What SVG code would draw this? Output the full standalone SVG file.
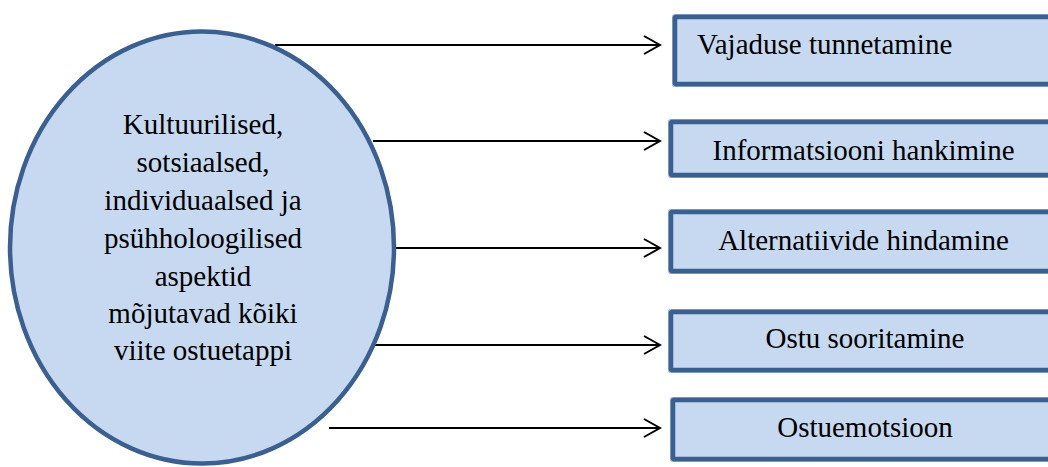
<svg xmlns="http://www.w3.org/2000/svg" width="1048" height="467" viewBox="0 0 1048 467">
<style>
.box{fill:#c6d9f0;stroke:#3b5f8e;stroke-width:4.5}
.rim{fill:none;stroke:#8fa9cc;stroke-width:1}
.ln{stroke:#000;stroke-width:2;fill:none}
</style>
<defs>
<marker id="ah" markerWidth="20" markerHeight="20" refX="18" refY="10" orient="auto" markerUnits="userSpaceOnUse" viewBox="0 0 20 20">
<path d="M2,1 L18,10 L2,19" fill="none" stroke="#000" stroke-width="2"/>
</marker>
</defs>
<rect width="1048" height="467" fill="#fff"/>
<g id="connectors">
<line class="ln" x1="275" y1="45" x2="660" y2="45" marker-end="url(#ah)"/>
<line class="ln" x1="373" y1="141" x2="660" y2="141" marker-end="url(#ah)"/>
<line class="ln" x1="393" y1="248" x2="660" y2="248" marker-end="url(#ah)"/>
<line class="ln" x1="374" y1="345" x2="660" y2="345" marker-end="url(#ah)"/>
<line class="ln" x1="329" y1="428" x2="660" y2="428" marker-end="url(#ah)"/>
</g>
<g id="ellipse" font-family="Liberation Serif, Times New Roman, serif" font-size="29" fill="#000" text-anchor="middle">
<ellipse cx="202" cy="247.5" rx="192" ry="216" fill="#c6d9f0" stroke="#3b5f8e" stroke-width="4.5"/>
<text x="203" y="134">Kultuurilised,</text>
<text x="203" y="172">sotsiaalsed,</text>
<text x="203" y="210">individuaalsed ja</text>
<text x="203" y="248">psühholoogilised</text>
<text x="203" y="286">aspektid</text>
<text x="203" y="323">mõjutavad kõiki</text>
<text x="203" y="360">viite ostuetappi</text>
</g>
<g id="box1" font-family="Liberation Serif, Times New Roman, serif" font-size="29" fill="#000">
<rect class="rim" x="672.5" y="14.5" width="390" height="72" rx="2"/>
<rect class="box" x="675" y="17" width="385" height="67" rx="1"/>
<text x="697" y="54">Vajaduse tunnetamine</text>
</g>
<g id="box2" font-family="Liberation Serif, Times New Roman, serif" font-size="29" fill="#000" text-anchor="middle">
<rect class="rim" x="668.5" y="119.5" width="390" height="58" rx="2"/>
<rect class="box" x="671" y="122" width="385" height="53" rx="1"/>
<text x="863.5" y="160">Informatsiooni hankimine</text>
</g>
<g id="box3" font-family="Liberation Serif, Times New Roman, serif" font-size="29" fill="#000" text-anchor="middle">
<rect class="rim" x="668.5" y="209.5" width="390" height="64" rx="2"/>
<rect class="box" x="671" y="212" width="385" height="59" rx="1"/>
<text x="863.5" y="250">Alternatiivide hindamine</text>
</g>
<g id="box4" font-family="Liberation Serif, Times New Roman, serif" font-size="29" fill="#000" text-anchor="middle">
<rect class="rim" x="668.5" y="309.5" width="390" height="63" rx="2"/>
<rect class="box" x="671" y="312" width="385" height="58" rx="1"/>
<text x="865" y="348">Ostu sooritamine</text>
</g>
<g id="box5" font-family="Liberation Serif, Times New Roman, serif" font-size="29" fill="#000" text-anchor="middle">
<rect class="rim" x="670.5" y="397.5" width="390" height="64" rx="2"/>
<rect class="box" x="673" y="400" width="385" height="59" rx="1"/>
<text x="865" y="437">Ostuemotsioon</text>
</g>
</svg>
